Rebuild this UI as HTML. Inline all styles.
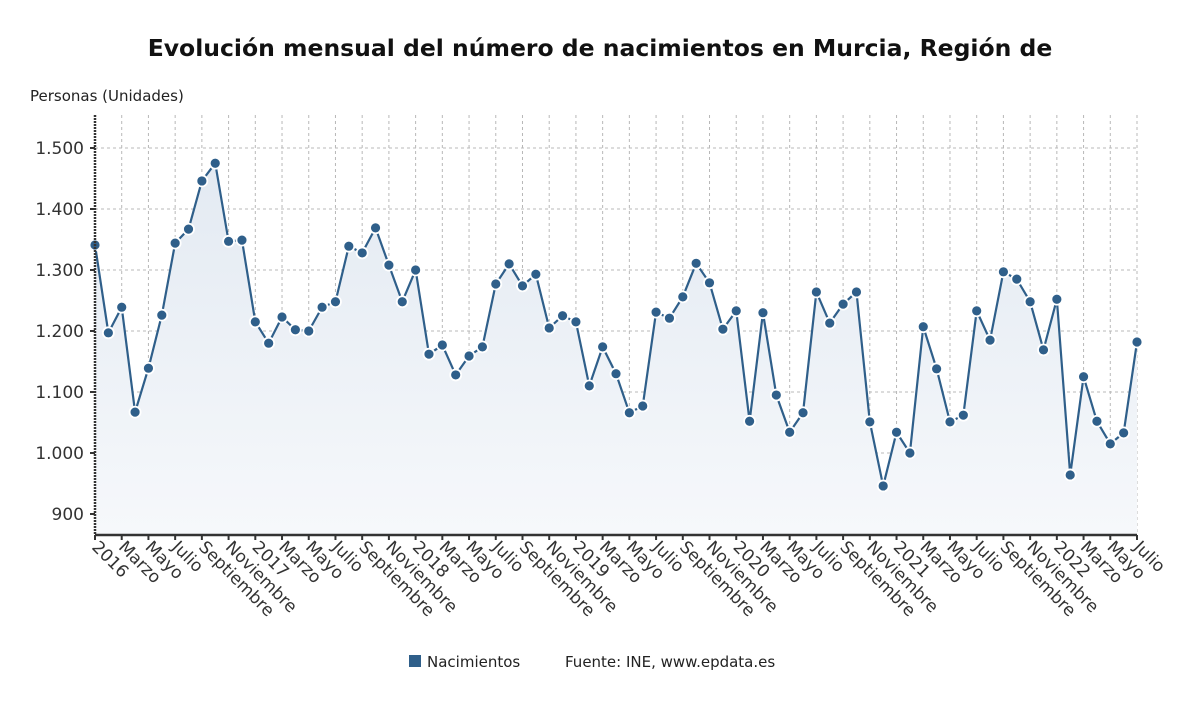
<!DOCTYPE html>
<html><head><meta charset="utf-8"><style>
body{margin:0;background:#fff;font-family:"Liberation Sans","DejaVu Sans",sans-serif;}
svg text{font-family:"DejaVu Sans","Liberation Sans",sans-serif;}
</style></head><body>
<svg id="chart" width="1200" height="705" viewBox="0 0 1200 705" xmlns="http://www.w3.org/2000/svg">
<defs><linearGradient id="fillg" x1="0" y1="0" x2="0" y2="1"><stop offset="0" stop-color="#e3eaf2"/><stop offset="1" stop-color="#f6f8fb"/></linearGradient></defs>
<text x="600" y="56" text-anchor="middle" font-size="23.5" font-weight="bold" fill="#111">Evolución mensual del número de nacimientos en Murcia, Región de</text>
<text x="30" y="101" font-size="15" fill="#222">Personas (Unidades)</text>
<g id="grid"></g>
<path id="area" fill="url(#fillg)"/>
<path id="line" fill="none" stroke="#2f5f8a" stroke-width="2.2"/>
<g id="points"></g>
<g id="axes"></g>
<g>
<rect x="409" y="655" width="12" height="12" fill="#2f5f8a"/>
<text x="427" y="667" font-size="15" fill="#222">Nacimientos</text>
<text x="565" y="667" font-size="15" fill="#222">Fuente: INE, www.epdata.es</text>
</g>
</svg>
<script>
const values=[1341,1197,1239,1067,1139,1226,1344,1367,1446,1475,1347,1349,
1215,1180,1223,1202,1200,1239,1248,1339,1328,1369,1308,1248,
1300,1162,1177,1128,1159,1174,1277,1310,1274,1293,1205,1225,
1215,1110,1174,1130,1066,1077,1231,1221,1256,1311,1279,1203,
1233,1052,1230,1095,1034,1066,1264,1213,1244,1264,1051,946,
1034,1000,1207,1138,1051,1062,1233,1185,1297,1285,1248,1169,
1252,964,1125,1052,1015,1033,1182];
const monthNames=["Enero","Febrero","Marzo","Abril","Mayo","Junio","Julio","Agosto","Septiembre","Octubre","Noviembre","Diciembre"];
const yTicks=[900,1000,1100,1200,1300,1400,1500];
const yTickLabels=["900","1.000","1.100","1.200","1.300","1.400","1.500"];
const startYear=2016;
const NS="http://www.w3.org/2000/svg";
const L=95,R=1137,T=115,B=535;
const x=i=>L+i*(R-L)/(values.length-1);
const y=v=>148+(1500-v)*0.61;
function mk(t,a,p){const e=document.createElementNS(NS,t);for(const k in a)e.setAttribute(k,a[k]);p.appendChild(e);return e;}
const grid=document.getElementById('grid'),axes=document.getElementById('axes'),pts=document.getElementById('points');
mk('rect',{x:L,y:T,width:R-L,height:B-T,fill:'#fff'},grid);
yTicks.forEach((t,k)=>{
 const g=mk('line',{x1:L,x2:R,y1:y(t),y2:y(t),stroke:'#b8b8b8','stroke-dasharray':'3,3'},grid);
 
 
 mk('line',{x1:L-5,x2:L,y1:y(t),y2:y(t),stroke:'#333','stroke-width':2},axes);
 const tx=mk('text',{x:L-11,y:y(t)+6,'text-anchor':'end','font-size':17,fill:'#333'},axes);
 tx.textContent=yTickLabels[k];
 
 
});
for(let i=0;i<values.length;i+=2){
 if(i>0){const g=mk('line',{x1:x(i),x2:x(i),y1:T,y2:B,stroke:'#b8b8b8','stroke-dasharray':'3,3'},grid);
 
 }
 mk('line',{x1:x(i),x2:x(i),y1:B,y2:B+5,stroke:'#333','stroke-width':2},axes);
 const m=i%12,lab=m===0?String(startYear+i/12):monthNames[m];
 const tx=mk('text',{x:x(i)-4,y:B+13,'font-size':17,fill:'#333',transform:`rotate(45 ${x(i)-4} ${B+13})`},axes);
 tx.textContent=lab;
 
 
}
mk('line',{x1:L,x2:R,y1:B,y2:B,stroke:'#333','stroke-width':2.5},axes);
mk('line',{x1:L,x2:L,y1:T,y2:B,stroke:'#333','stroke-width':2.5,'stroke-dasharray':'2,1'},axes);
let d=values.map((v,i)=>(i?'L':'M')+x(i)+','+y(v)).join('');
document.getElementById('line').setAttribute('d',d);
document.getElementById('area').setAttribute('d',d+`L${x(values.length-1)},${B}L${L},${B}Z`);
values.forEach((v,i)=>{
 const c=mk('circle',{cx:x(i),cy:y(v),r:5.5,fill:'#2f5f8a',stroke:'#fff','stroke-width':1.8},pts);
 
 
});
</script>
</body></html>
